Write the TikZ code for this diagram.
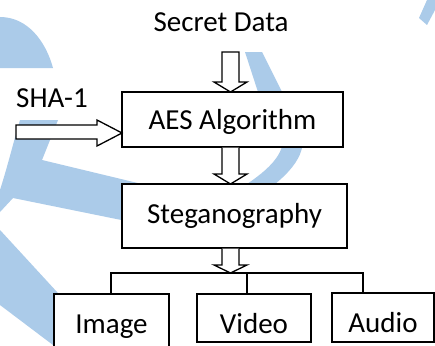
\documentclass[tikz,border=0pt]{standalone}
\usepackage{fontspec}
\setmainfont{Carlito}
\usetikzlibrary{calc}
\definecolor{wm}{RGB}{171,203,233}
\begin{document}
\begin{tikzpicture}[x=1pt,y=-1pt,
  box/.style={draw=black, line width=1.4pt, fill=white, inner sep=0pt, outer sep=0pt, text depth=0pt, font=\fontsize{29}{34}\selectfont},
  lbl/.style={inner sep=0pt, font=\fontsize{29}{34}\selectfont},
  barrow/.style={draw=black, line width=1.3pt, fill=white, line join=miter},
  conn/.style={draw=black, line width=1.3pt},
  wmark/.style={fill=wm, draw=none}]
\useasboundingbox (0,0) rectangle (435,345);
\clip (0,0) rectangle (435,345);
\fill[white] (0,0) rectangle (435,345);
% watermark
\fill[wmark] (0,17) .. controls (28,17) and (46,42) .. (53,68) -- (0,68) -- cycle;
\fill[wmark] (20,120) -- (58,120) -- (42,160) -- (200,198) -- (200,236) -- (13,198) -- (0,212) -- (0,190) .. controls (8,165) and (14,140) .. (20,120) -- cycle;
\fill[wmark] (245,52) -- (262,52) -- (282,92) -- (298,120) .. controls (310,145) and (300,165) .. (270,188) -- (272,195) -- (245,195) -- (247,184) .. controls (275,165) and (290,148) .. (281,122) -- (258,92) -- cycle;
\fill[wmark] (427,0) -- (435,0) -- (435,10) -- (427,25) -- (419,18) -- cycle;
\fill[wmark] (0,230) -- (57,292) -- (110,345) -- (53,345) -- (0,305) -- cycle;
% nodes
\node[lbl, anchor=base] (secret) at (221,32) {Secret Data};
\node[lbl, anchor=base west] (sha) at (16,107) {SHA-1};
\node[box, minimum width=221pt, minimum height=55pt, text height=19pt] (aes) at (232.5,119.5) {AES Algorithm};
\node[box, minimum width=225pt, minimum height=64pt, text height=14pt] (steg) at (234.5,216) {Steganography};
\node[box, minimum width=115pt, minimum height=66pt, text height=12pt] (image) at (111.5,327) {Image};
\node[box, minimum width=114pt, minimum height=48pt, text height=30pt] (video) at (254,318) {Video};
\node[box, minimum width=102pt, minimum height=49pt, text height=29pt] (audio) at (383,317.5) {Audio};
\coordinate (s1) at ($(secret.base)+(0,20)$);
\coordinate (jn) at (230.5,273);
% block arrows
\draw[barrow] (222,0 |- s1) -- (239,0 |- s1) -- (239,82) -- (247,82) -- (230.5,0 |- aes.north) -- (214,82) -- (222,82) -- cycle;
\draw[barrow] (16,125) -- (97,125) -- (97,120) -- (0,133 -| aes.west) -- (97,146) -- (97,139) -- (16,139) -- cycle;
\filldraw[barrow] ($(222,0 |- aes.south)+(0,0.7)$) -- (222,174) -- (214,174) -- (230.5,0 |- steg.north) -- (247,174) -- (239,174) -- ($(239,0 |- aes.south)+(0,0.7)$);
\filldraw[barrow] ($(222,0 |- steg.south)+(0,0.7)$) -- (222,265) -- (214,265) -- (jn) -- (247,265) -- (239,265) -- ($(239,0 |- steg.south)+(0,0.7)$);
% tree
\draw[conn] (111,0 |- image.north) -- (111,0 |- jn) -- (363,0 |- jn) -- (363,0 |- audio.north);
\draw[conn] (247,0 |- jn) -- (247,0 |- video.north);
\end{tikzpicture}
\end{document}
